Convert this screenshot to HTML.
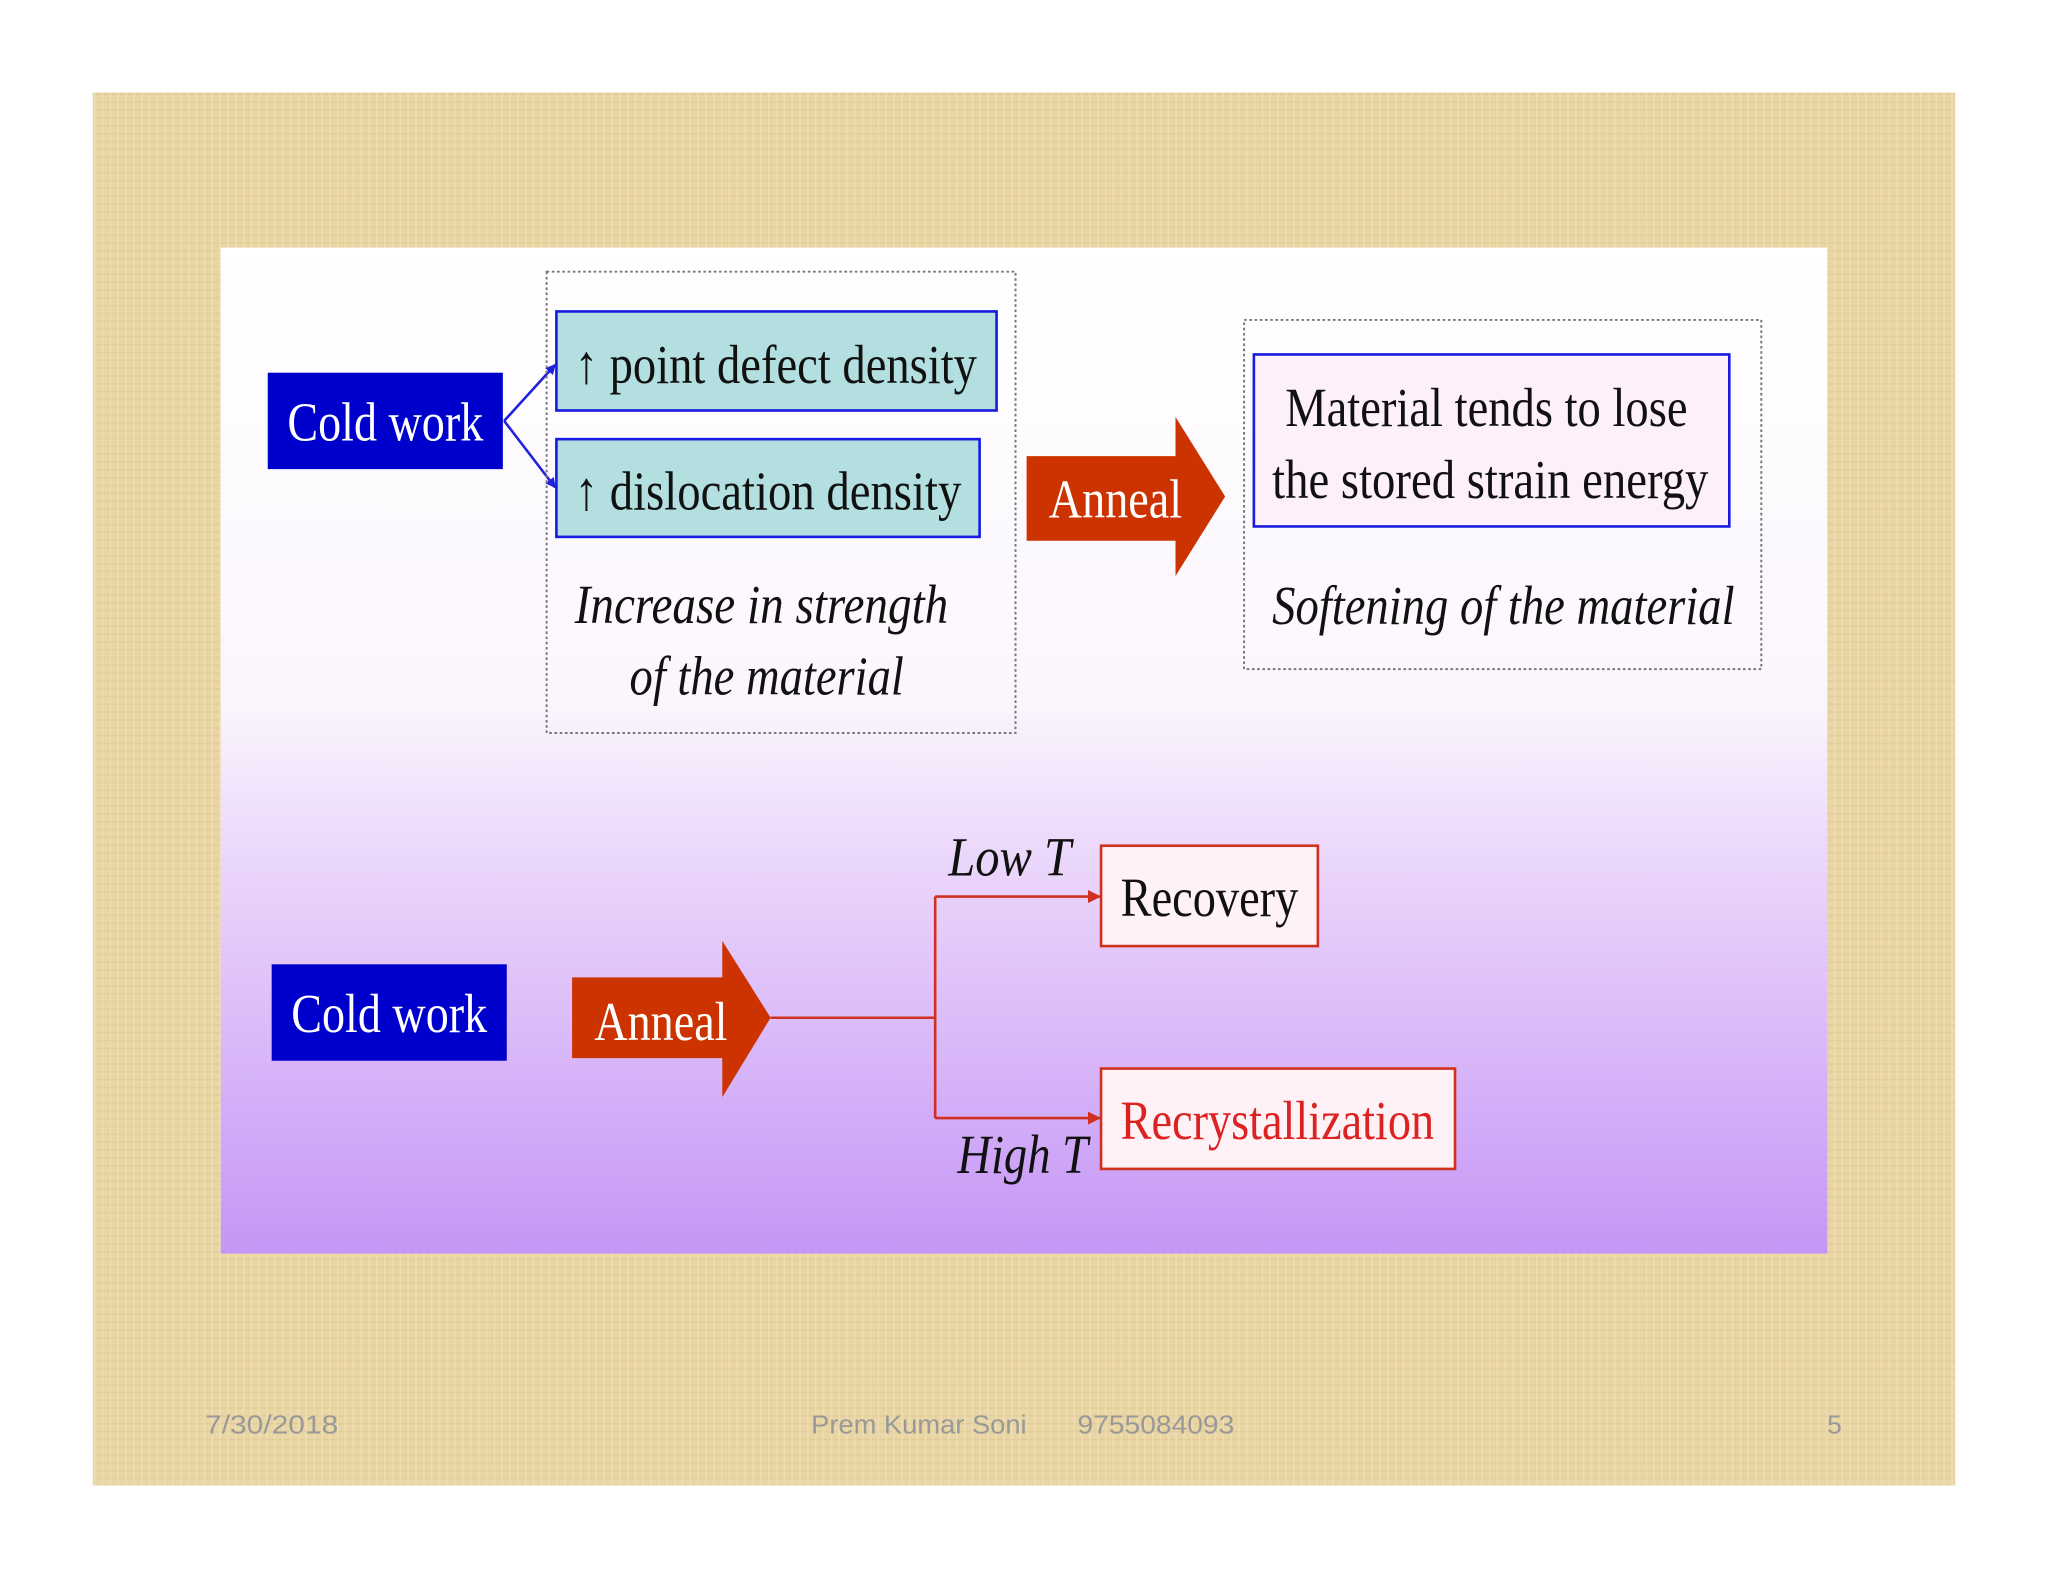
<!DOCTYPE html>
<html><head><meta charset="utf-8"><style>html,body{margin:0;padding:0;background:#fff}svg{display:block}</style></head>
<body>
<svg width="2048" height="1582" viewBox="0 0 1568 1214" preserveAspectRatio="none" xmlns="http://www.w3.org/2000/svg">
<defs>
<linearGradient id="g" x1="0" y1="0" x2="0" y2="1">
<stop offset="0" stop-color="#ffffff"/>
<stop offset="0.45" stop-color="#fbf6fd"/>
<stop offset="0.6" stop-color="#ecd8fb"/>
<stop offset="1" stop-color="#c596f6"/>
</linearGradient>
<pattern id="tx" width="6" height="6" patternUnits="userSpaceOnUse">
<rect width="6" height="6" fill="#e9d6a4"/>
<rect width="6" height="1" fill="#dcc48d" opacity="0.6"/>
<rect width="1" height="6" fill="#f1e4bd" opacity="0.7"/>
</pattern>
<marker id="ab" markerWidth="8" markerHeight="8" refX="7" refY="4" orient="auto" markerUnits="userSpaceOnUse"><path d="M0,0 L8,4 L0,8z" fill="#2222dd"/></marker>
<marker id="ar" markerWidth="10" markerHeight="10" refX="9" refY="5" orient="auto" markerUnits="userSpaceOnUse"><path d="M0,0 L10,5 L0,10z" fill="#d03020"/></marker>
</defs>
<rect x="71" y="71" width="1426" height="1069" fill="url(#tx)"/>
<rect x="169" y="190" width="1230" height="772" fill="url(#g)"/>

<g font-family="Liberation Serif, serif">
<rect x="205" y="286" width="180" height="74" fill="#0000cc"/>
<text x="295" y="338" font-size="42" fill="#fff" text-anchor="middle" textLength="150" lengthAdjust="spacingAndGlyphs">Cold work</text>
<path d="M386,323 L425,280" stroke="#2222dd" stroke-width="2" fill="none" marker-end="url(#ab)"/>
<path d="M386,323 L425,374" stroke="#2222dd" stroke-width="2" fill="none" marker-end="url(#ab)"/>

<rect x="418.5" y="208.5" width="359" height="354" fill="none" stroke="#777" stroke-width="1.5" stroke-dasharray="2,2"/>
<rect x="426" y="239" width="337" height="76" fill="#b3dfe0" stroke="#1a1ae0" stroke-width="2"/>
<text x="440" y="294" font-size="42" fill="#111" textLength="308" lengthAdjust="spacingAndGlyphs">↑ point defect density</text>
<rect x="426" y="337" width="324" height="75" fill="#b3dfe0" stroke="#1a1ae0" stroke-width="2"/>
<text x="440" y="391" font-size="42" fill="#111" textLength="296" lengthAdjust="spacingAndGlyphs">↑ dislocation density</text>
<text x="583" y="478" font-size="42" font-style="italic" fill="#111" text-anchor="middle" textLength="286" lengthAdjust="spacingAndGlyphs">Increase in strength</text>
<text x="587" y="533" font-size="42" font-style="italic" fill="#111" text-anchor="middle" textLength="210" lengthAdjust="spacingAndGlyphs">of the material</text>

<path d="M786,350 L900,350 L900,320 L938,381 L900,442 L900,415 L786,415z" fill="#cc3300"/>
<text x="854" y="397" font-size="42" fill="#fff" text-anchor="middle" textLength="102" lengthAdjust="spacingAndGlyphs">Anneal</text>

<rect x="952.5" y="245.5" width="396" height="268" fill="none" stroke="#777" stroke-width="1.5" stroke-dasharray="2,2"/>
<rect x="960" y="272" width="364" height="132" fill="#fdf0fb" stroke="#1a1ae0" stroke-width="2"/>
<text x="1138" y="327" font-size="42" fill="#111" text-anchor="middle" textLength="308" lengthAdjust="spacingAndGlyphs">Material tends to lose</text>
<text x="1141" y="382" font-size="42" fill="#111" text-anchor="middle" textLength="334" lengthAdjust="spacingAndGlyphs">the stored strain energy</text>
<text x="1151" y="479" font-size="42" font-style="italic" fill="#111" text-anchor="middle" textLength="354" lengthAdjust="spacingAndGlyphs">Softening of the material</text>

<rect x="208" y="740" width="180" height="74" fill="#0000cc"/>
<text x="298" y="792" font-size="42" fill="#fff" text-anchor="middle" textLength="150" lengthAdjust="spacingAndGlyphs">Cold work</text>

<path d="M438,750 L553,750 L553,722 L590,781 L553,842 L553,812 L438,812z" fill="#cc3300"/>
<text x="506" y="798" font-size="42" fill="#fff" text-anchor="middle" textLength="102" lengthAdjust="spacingAndGlyphs">Anneal</text>
<path d="M590,781 L716,781 M716,688 L716,858" stroke="#d03020" stroke-width="2" fill="none"/>
<path d="M716,688 L842,688" stroke="#d03020" stroke-width="2" fill="none" marker-end="url(#ar)"/>
<path d="M716,858 L842,858" stroke="#d03020" stroke-width="2" fill="none" marker-end="url(#ar)"/>

<text x="773" y="672" font-size="42" font-style="italic" fill="#111" text-anchor="middle" textLength="94" lengthAdjust="spacingAndGlyphs">Low T</text>
<text x="783" y="900" font-size="42" font-style="italic" fill="#111" text-anchor="middle" textLength="100" lengthAdjust="spacingAndGlyphs">High T</text>

<rect x="843" y="649" width="166" height="77" fill="#fff2f6" stroke="#d03020" stroke-width="2"/>
<text x="926" y="703" font-size="42" fill="#111" text-anchor="middle" textLength="136" lengthAdjust="spacingAndGlyphs">Recovery</text>
<rect x="843" y="820" width="271" height="77" fill="#fff2f6" stroke="#d03020" stroke-width="2"/>
<text x="978" y="874" font-size="42" fill="#dd2222" text-anchor="middle" textLength="240" lengthAdjust="spacingAndGlyphs">Recrystallization</text>
</g>

<g font-family="Liberation Sans, sans-serif" font-size="20" fill="#999">
<text x="157" y="1100" textLength="102" lengthAdjust="spacingAndGlyphs">7/30/2018</text>
<text x="621" y="1100" textLength="165" lengthAdjust="spacingAndGlyphs">Prem Kumar Soni</text>
<text x="825" y="1100" textLength="120" lengthAdjust="spacingAndGlyphs">9755084093</text>
<text x="1399" y="1100">5</text>
</g>
</svg>
</body></html>
